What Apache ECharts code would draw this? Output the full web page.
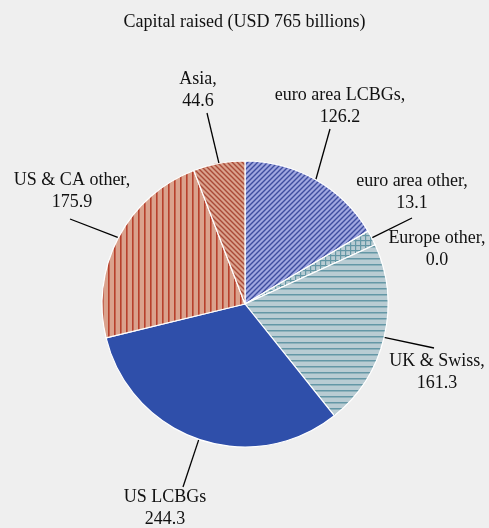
<!DOCTYPE html>
<html>
<head>
<meta charset="utf-8">
<script src="https://cdn.jsdelivr.net/npm/echarts@6/dist/echarts.min.js"></script>
<style>
  html, body { margin: 0; padding: 0; background: #efefef; }
  #chart { width: 489px; height: 528px; }
</style>
</head>
<body>
<div id="chart"></div>
<script>
// data
var names = ['euro area LCBGs', 'euro area other', 'Europe other', 'UK & Swiss', 'US LCBGs', 'US & CA other', 'Asia'];
var values = [126.2, 13.1, 0.0, 161.3, 244.3, 175.9, 44.6];
var labelTexts = ['euro area LCBGs,\n126.2', 'euro area other,\n13.1', 'Europe other,\n0.0', 'UK & Swiss,\n161.3', 'US LCBGs\n244.3', 'US & CA other,\n175.9', 'Asia,\n44.6'];

// label placement (centre of text, end of leader line)
var labelPos = [[340, 106], [412, 192], [437, 249], [437, 372], [165, 508], [72, 191], [198, 90]];
var lineEnd = [[330, 129], [412, 218], null, [434, 348], [183, 487], [70, 219], [207, 113]];

// 斜线/网格填充
function makePattern(bg, fg, kind, size, lw) {
  var c = document.createElement('canvas');
  c.width = size; c.height = size;
  var ctx = c.getContext('2d');
  ctx.fillStyle = bg;
  ctx.fillRect(0, 0, size, size);
  ctx.strokeStyle = fg;
  ctx.fillStyle = fg;
  ctx.lineWidth = lw;
  if (kind === 'h') {
    ctx.fillRect(0, 0, size, lw);
  } else if (kind === 'v') {
    ctx.fillRect(0, 0, lw, size);
  } else if (kind === 'grid') {
    ctx.fillRect(0, 0, size, lw);
    ctx.fillRect(0, 0, lw, size);
  } else if (kind === '/') {
    ctx.beginPath();
    ctx.moveTo(-1, size + 1); ctx.lineTo(size + 1, -1);
    ctx.moveTo(-1, 1); ctx.lineTo(1, -1);
    ctx.moveTo(size - 1, size + 1); ctx.lineTo(size + 1, size - 1);
    ctx.stroke();
  } else if (kind === '\\') {
    ctx.beginPath();
    ctx.moveTo(-1, -1); ctx.lineTo(size + 1, size + 1);
    ctx.moveTo(size - 1, -1); ctx.lineTo(size + 1, 1);
    ctx.moveTo(-1, size - 1); ctx.lineTo(1, size + 1);
    ctx.stroke();
  }
  return { image: c, repeat: 'repeat' };
}

var fills = [
  makePattern('#a0a7e0', '#3e4d9f', '/', 5, 1.4),
  makePattern('#b9ccd3', '#6497a6', 'grid', 5, 1.2),
  makePattern('#b9ccd3', '#6497a6', 'grid', 5, 1.2),
  makePattern('#b9ccd3', '#6497a6', 'h', 6, 1.5),
  '#2f4faa',
  makePattern('#daa28d', '#b7402c', 'v', 6, 1.6),
  makePattern('#daa28d', '#a94a38', '\\', 5, 1.4)
];

var pieData = names.map(function (n, i) {
  return {
    name: n,
    value: values[i],
    itemStyle: { color: fills[i] },
    labelLine: { show: values[i] !== 0 }
  };
});

var serif = 'Liberation Serif, Times New Roman, serif';

var chart = echarts.init(document.getElementById('chart'));
chart.setOption({
  backgroundColor: '#efefef',
  animation: false,
  title: {
    text: 'Capital raised (USD 765 billions)',
    left: 'center',
    top: 8,
    textStyle: { fontFamily: serif, fontSize: 18, fontWeight: 'normal', color: '#111' }
  },
  series: [{
    type: 'pie',
    center: [245, 304],
    radius: 143,
    startAngle: 90,
    clockwise: true,
    avoidLabelOverlap: false,
    data: pieData,
    itemStyle: { borderColor: '#ffffff', borderWidth: 1.2 },
    label: {
      show: true,
      position: 'outside',
      formatter: function (p) { return labelTexts[p.dataIndex]; },
      fontFamily: serif,
      fontSize: 18,
      lineHeight: 22,
      color: '#111',
      align: 'center'
    },
    labelLine: {
      show: true,
      length: 30,
      length2: 0,
      lineStyle: { color: '#000', width: 1.3 }
    },
    labelLayout: function (params) {
      var i = params.dataIndex;
      var res = {
        x: labelPos[i][0],
        y: labelPos[i][1],
        align: 'center',
        verticalAlign: 'middle'
      };
      if (lineEnd[i] && params.labelLinePoints) {
        var p0 = params.labelLinePoints[0];
        res.labelLinePoints = [p0, lineEnd[i], lineEnd[i]];
      }
      return res;
    }
  }]
});
</script>
</body>
</html>
